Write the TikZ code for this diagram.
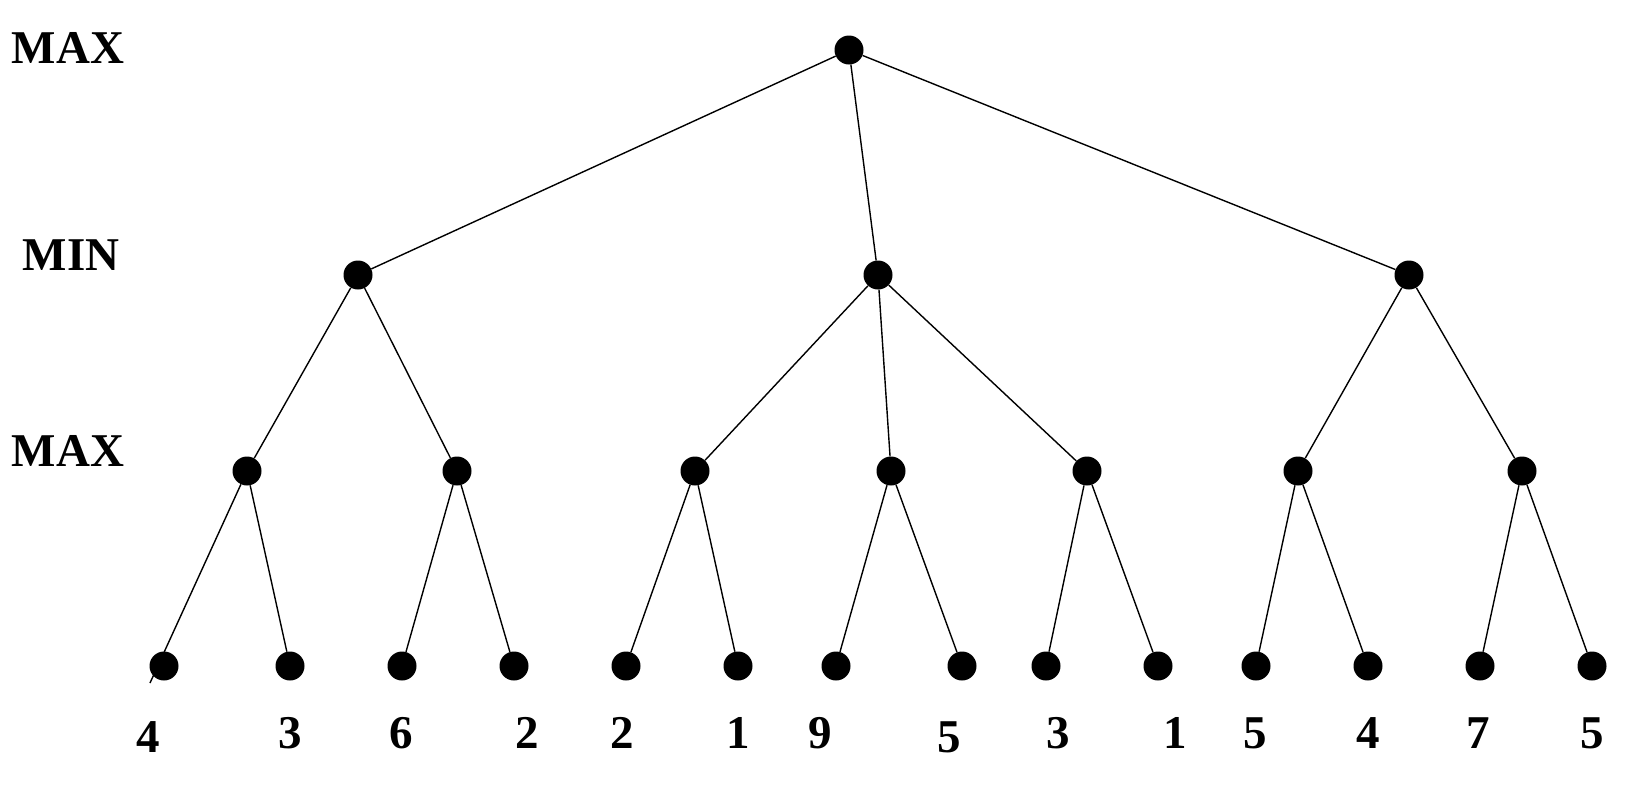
\documentclass[tikz,border=0pt]{standalone}
\usepackage{fontspec}
\setmainfont{Liberation Serif}
\begin{document}
\begin{tikzpicture}[x=1pt,y=-1pt,
  dot/.style={circle,fill=black,inner sep=0pt,minimum size=29pt},
  edge/.style={draw=black,line width=1.4pt},
  lvl/.style={font=\fontsize{47}{50}\selectfont\bfseries,anchor=base,inner sep=0pt},
  val/.style={font=\fontsize{47}{50}\selectfont\bfseries,anchor=base,inner sep=0pt}]
\useasboundingbox (0,0) rectangle (1637,788);
% level labels
\node[lvl] (lmax1) at (68,63) {MAX};
\node[lvl] (lmin) at (71,270) {MIN};
\node[lvl] (lmax2) at (68,466) {MAX};
% nodes
\node[dot] (r) at (849,50) {};
\node[dot] (n1) at (358,275) {};
\node[dot] (n2) at (878,275) {};
\node[dot] (n3) at (1409,275) {};
\foreach \i/\x in {1/247,2/457,3/695,4/891,5/1087,6/1298,7/1522}
  \node[dot] (m\i) at (\x,471) {};
\foreach \i/\x in {1/164,2/290,3/402,4/514,5/626,6/738,7/836,8/962,9/1046,10/1158,11/1256,12/1368,13/1480,14/1592}
  \node[dot] (l\i) at (\x,666) {};
\coordinate (l1x) at (150,683);
% edges
\draw[edge] (r) -- (n1);
\draw[edge] (r) -- (n2);
\draw[edge] (r) -- (n3);
\draw[edge] (n1) -- (m1);
\draw[edge] (n1) -- (m2);
\draw[edge] (n2) -- (m3);
\draw[edge] (n2) -- (m4);
\draw[edge] (n2) -- (m5);
\draw[edge] (n3) -- (m6);
\draw[edge] (n3) -- (m7);
\draw[edge] (m1) -- (l1x);
\draw[edge] (m1) -- (l2);
\draw[edge] (m2) -- (l3);
\draw[edge] (m2) -- (l4);
\draw[edge] (m3) -- (l5);
\draw[edge] (m3) -- (l6);
\draw[edge] (m4) -- (l7);
\draw[edge] (m4) -- (l8);
\draw[edge] (m5) -- (l9);
\draw[edge] (m5) -- (l10);
\draw[edge] (m6) -- (l11);
\draw[edge] (m6) -- (l12);
\draw[edge] (m7) -- (l13);
\draw[edge] (m7) -- (l14);
% leaf values
\node[val] (v1) at (148,752) {4};
\node[val] (v2) at (290,748) {3};
\node[val] (v3) at (401,748) {6};
\node[val] (v4) at (527,748) {2};
\node[val] (v5) at (622,748) {2};
\node[val] (v6) at (738,748) {1};
\node[val] (v7) at (820,748) {9};
\node[val] (v8) at (949,752) {5};
\node[val] (v9) at (1058,748) {3};
\node[val] (v10) at (1175,748) {1};
\node[val] (v11) at (1255,748) {5};
\node[val] (v12) at (1368,748) {4};
\node[val] (v13) at (1478,748) {7};
\node[val] (v14) at (1592,748) {5};
\end{tikzpicture}
\end{document}
